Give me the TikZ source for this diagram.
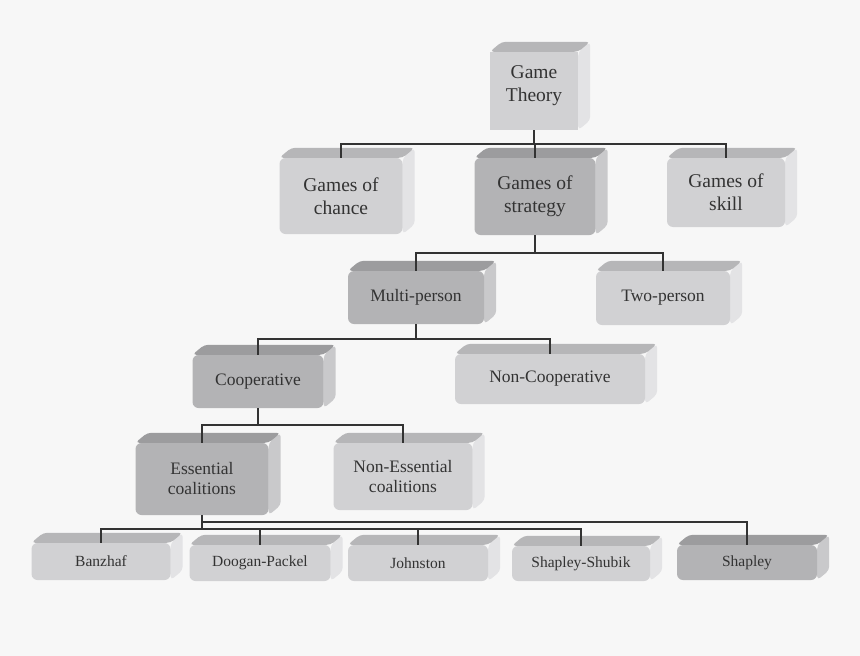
\documentclass[tikz,border=0pt]{standalone}
\usepackage{fontspec}
\setmainfont{Liberation Serif}
\usetikzlibrary{positioning,backgrounds}
\definecolor{paper}{HTML}{F7F7F7}
\definecolor{liteFront}{HTML}{D1D1D3}
\definecolor{liteTop}{HTML}{B6B6B8}
\definecolor{liteSide}{HTML}{E3E3E5}
\definecolor{darkFront}{HTML}{B3B3B5}
\definecolor{darkTop}{HTML}{9C9C9E}
\definecolor{darkSide}{HTML}{C9C9CB}
\definecolor{wire}{HTML}{333333}
\begin{document}
\begin{tikzpicture}[x=1pt,y=-1pt]
\tikzstyle{every node}+=[inner sep=0pt, align=center, text=wire]
\tikzstyle{lite}=[fill=liteFront, rounded corners=6pt]
\tikzstyle{dark}=[fill=darkFront, rounded corners=6pt]
\tikzstyle{big}=[font=\fontsize{19.5}{23}\selectfont]
\tikzstyle{mid}=[font=\fontsize{17.5}{20}\selectfont]
\tikzstyle{small}=[font=\fontsize{15.5}{18}\selectfont]
\tikzstyle{link}=[draw=wire, line width=1.8pt]
\node [lite, big, sharp corners, text depth=14pt, minimum width=88pt, minimum height=78pt] (gt) at (534,91) {Game\\Theory};
\node [lite, big, minimum width=123pt, minimum height=76pt] (chance) at (341,196) {Games of\\chance};
\node [dark, big, minimum width=121pt, minimum height=77pt] (strategy) at (535,196.5) {Games of\\strategy};
\node [lite, big, minimum width=118pt, minimum height=69pt] (skill) at (726,192.5) {Games of\\skill};
\node [dark, mid, minimum width=136pt, minimum height=53pt] (multi) at (416,297.5) {Multi-person};
\node [lite, mid, minimum width=134pt, minimum height=54pt] (two) at (663,298) {Two-person};
\node [dark, mid, minimum width=131pt, minimum height=53pt] (coop) at (258,381.5) {Cooperative};
\node [lite, mid, minimum width=190pt, minimum height=50pt] (noncoop) at (550,379) {Non-Cooperative};
\node [dark, mid, minimum width=133pt, minimum height=72pt] (essential) at (202,479) {Essential\\coalitions};
\node [lite, mid, minimum width=139pt, minimum height=67pt] (nonessential) at (403,476.5) {Non-Essential\\coalitions};
\node [lite, small, minimum width=139pt, minimum height=37pt] (banzhaf) at (101,561.5) {Banzhaf};
\node [lite, small, minimum width=141pt, minimum height=36pt] (doogan) at (260,563) {Doogan-Packel};
\node [lite, small, minimum width=140pt, minimum height=36pt] (johnston) at (418,563) {Johnston};
\node [lite, small, minimum width=138pt, minimum height=35pt] (shubik) at (581,563.5) {Shapley-Shubik};
\node [dark, small, minimum width=140pt, minimum height=35pt] (shapley) at (747,562.5) {Shapley};
\begin{pgfonlayer}{background}
\fill [paper] (0,0) rectangle (860,656);
\foreach \n/\t/\s in {gt/liteTop/liteSide, chance/liteTop/liteSide, strategy/darkTop/darkSide,
  skill/liteTop/liteSide, multi/darkTop/darkSide, two/liteTop/liteSide, coop/darkTop/darkSide,
  noncoop/liteTop/liteSide, essential/darkTop/darkSide, nonessential/liteTop/liteSide,
  banzhaf/liteTop/liteSide, doogan/liteTop/liteSide, johnston/liteTop/liteSide,
  shubik/liteTop/liteSide, shapley/darkTop/darkSide}{
  \fill [\s, rounded corners=4pt] (\n.north east) -- ++(12,-10) -- ([shift={(12,-10)}]\n.south east) -- (\n.south east) -- cycle;
  \fill [\t, rounded corners=4pt] (\n.north west) -- ++(12,-10) -- ([shift={(12,-10)}]\n.north east) -- (\n.north east) -- cycle;
}
\end{pgfonlayer}
\draw [link] (gt.south) -- ++(0,14) -| (chance.north);
\draw [link] (gt.south) -- ++(0,14) -| (strategy.north);
\draw [link] (gt.south) -- ++(0,14) -| (skill.north);
\draw [link] (strategy.south) -- ++(0,18) -| (multi.north);
\draw [link] (strategy.south) -- ++(0,18) -| (two.north);
\draw [link] (multi.south) -- ++(0,15) -| (coop.north);
\draw [link] (multi.south) -- ++(0,15) -| (noncoop.north);
\draw [link] (coop.south) -- ++(0,17) -| (essential.north);
\draw [link] (coop.south) -- ++(0,17) -| (nonessential.north);
\draw [link] (essential.south) -- ++(0,14) -| (banzhaf.north);
\draw [link] (essential.south) -- ++(0,14) -| (doogan.north);
\draw [link] (essential.south) -- ++(0,14) -| (johnston.north);
\draw [link] (essential.south) -- ++(0,14) -| (shubik.north);
\draw [link] (essential.south) -- ++(0,7) -| (shapley.north);
\end{tikzpicture}
\end{document}
